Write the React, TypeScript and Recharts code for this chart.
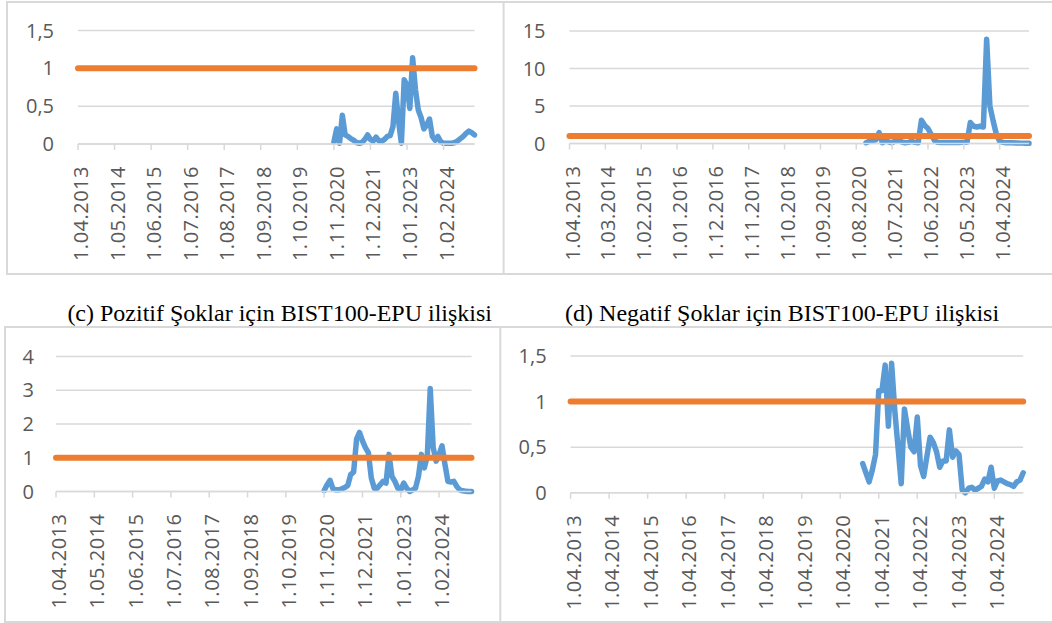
import React from 'react';
import { LineChart, Line, XAxis, YAxis, CartesianGrid } from 'recharts';

// monthly axis, 1.04.2013 ... 1.01.2025
const firstYear = 2013;
const firstMonth = 4;
const monthCount = 142;
const months = Array.from({ length: monthCount }, (_, i) => {
  const t = firstMonth - 1 + i;
  return `1.${String((t % 12) + 1).padStart(2, '0')}.${firstYear + Math.floor(t / 12)}`;
});

const seriesStart = '1.11.2020';
const threshold = 1;

// (a)
const valuesA = [
  0.03, 0.2, 0.01, 0.38, 0.12, 0.1, 0.07, 0.05, 0.02, 0.01, 0.02, 0.06, 0.12, 0.06, 0.04, 0.09, 0.04,
  0.04, 0.06, 0.1, 0.11, 0.23, 0.67, 0.3, 0.01, 0.85, 0.78, 0.47, 1.14, 0.72, 0.45, 0.35, 0.2, 0.25,
  0.33, 0.1, 0.05, 0.1, 0.03, 0.01, 0.01, 0.01, 0.01, 0.02, 0.04, 0.07, 0.1, 0.14, 0.17, 0.15, 0.12,
];
// (b)
const valuesB = [
  0.1, 0.3, 0.4, 0.5, 1.45, 0.1, 0.35, 0.2, 0.1, 0.4, 0.5, 0.2, 0.1, 0.15, 0.3, 0.15, 0.1, 3.1, 2.4,
  2.0, 1.2, 0.4, 0.15, 0.12, 0.12, 0.12, 0.12, 0.13, 0.15, 0.15, 0.18, 0.2, 2.8, 2.3, 2.2, 2.3, 2.2,
  13.9, 5.0, 3.0, 1.2, 0.3, 0.15, 0.1, 0.1, 0.1, 0.08, 0.06, 0.05, 0.03, 0.02,
];
// (c) Pozitif şoklar
const valuesC = [
  0.03, 0.2, 0.33, 0.08, 0.05, 0.05, 0.08, 0.12, 0.18, 0.5, 0.58, 1.55, 1.75, 1.5, 1.3, 1.15, 0.4,
  0.1, 0.1, 0.2, 0.3, 0.25, 1.1, 0.45, 0.3, 0.1, 0.05, 0.25, 0.1, 0.0, 0.05, 0.1, 0.45, 1.1, 0.7,
  1.05, 3.05, 1.3, 0.9, 1.1, 1.35, 0.8, 0.3, 0.28, 0.3, 0.15, 0.05, 0.02, 0.01, 0.0, 0.0,
];
// (d) Negatif şoklar
const valuesD = [
  0.32, 0.22, 0.12, 0.25, 0.42, 1.12, 1.12, 1.4, 0.73, 1.42, 0.9, 0.5, 0.1, 0.92, 0.7, 0.5, 0.45,
  0.83, 0.3, 0.18, 0.4, 0.61, 0.55, 0.45, 0.28, 0.35, 0.35, 0.69, 0.39, 0.46, 0.42, 0.03, 0.0, 0.05,
  0.06, 0.03, 0.05, 0.07, 0.15, 0.12, 0.28, 0.05, 0.13, 0.14, 0.12, 0.1, 0.09, 0.07, 0.12, 0.14, 0.22,
];

const ticksA = [0, 0.5, 1, 1.5];
const ticksB = [0, 5, 10, 15];
const ticksC = [0, 1, 2, 3, 4];
const ticksD = [0, 0.5, 1, 1.5];

const captionC = '(c) Pozitif Şoklar için BIST100-EPU ilişkisi';
const captionD = '(d) Negatif Şoklar için BIST100-EPU ilişkisi';

const GRID = '#d9d9d9';
const TEXT = '#595959';
const FONT = '"Open Sans", sans-serif';

const DateTick = (props: any) => {
  const { x, y, payload } = props;
  return (
    <text
      transform={`translate(${x},${y + 16}) rotate(-90)`}
      textAnchor="end"
      dy={10}
      fill={TEXT}
      fontSize={20}
      fontFamily={FONT}
      letterSpacing={0.5}
    >
      {payload.value}
    </text>
  );
};

type PanelProps = {
  values: number[];
  yTicks: number[];
  step: number;
  left: number;
  top: number;
  width: number;
  height: number;
  plotLeft: number;
  plotRight: number;
  plotTop: number;
  plotBottom: number;
  labelGap: number;
};

function Panel(p: PanelProps) {
  const start = months.indexOf(seriesStart);
  const data = months.map((m, i) => ({
    m,
    v: i >= start && i - start < p.values.length ? p.values[i - start] : null,
    t: threshold,
  }));
  return (
    <div style={{ position: 'absolute', left: p.left, top: p.top }}>
      <LineChart
        width={p.width}
        height={p.height}
        data={data}
        margin={{ top: p.plotTop - p.top, right: p.left + p.width - p.plotRight, bottom: 0, left: 0 }}
      >
        <CartesianGrid vertical={false} stroke={GRID} strokeWidth={1.5} />
        <XAxis
          dataKey="m"
          interval={p.step - 1}
          height={p.top + p.height - p.plotBottom}
          tickSize={6}
          tickMargin={0}
          axisLine={{ stroke: GRID, strokeWidth: 1.5 }}
          tickLine={{ stroke: GRID, strokeWidth: 1.5 }}
          tick={<DateTick />}
        />
        <YAxis
          type="number"
          domain={[p.yTicks[0], p.yTicks[p.yTicks.length - 1]]}
          ticks={p.yTicks}
          width={p.plotLeft - p.left}
          axisLine={false}
          tickLine={false}
          tickSize={0}
          tickMargin={p.labelGap}
          tickFormatter={(v: number) => String(v).replace('.', ',')}
          tick={{ fill: TEXT, fontSize: 20, fontFamily: FONT }}
        />
        <Line
          dataKey="v"
          type="linear"
          stroke="#5B9BD5"
          strokeWidth={5.5}
          strokeLinejoin="round"
          strokeLinecap="round"
          dot={false}
          isAnimationActive={false}
        />
        <Line
          dataKey="t"
          type="linear"
          stroke="#ED7D31"
          strokeWidth={6}
          strokeLinecap="round"
          dot={false}
          isAnimationActive={false}
        />
      </LineChart>
    </div>
  );
}

export default function App() {
  return (
    <div style={{ position: 'absolute', left: 0, top: 0, width: 1052, height: 623, background: '#fff', overflow: 'hidden' }}>
      <svg width={1052} height={623} style={{ position: 'absolute', left: 0, top: 0 }}>
        <g stroke={GRID} strokeWidth={2} fill="none">
          <path d="M1052,2 H7 V274 H1052" />
          <path d="M503.6,2 V274" />
          <path d="M1052,327 H5 V622 H1052" />
          <path d="M500.3,327 V622" />
        </g>
        <text x={279.7} y={320.5} textAnchor="middle" fontFamily='"Liberation Serif", "Times New Roman", serif' fontSize={24} fill="#000">
          {captionC}
        </text>
        <text x={782.1} y={320.5} textAnchor="middle" fontFamily='"Liberation Serif", "Times New Roman", serif' fontSize={24} fill="#000">
          {captionD}
        </text>
      </svg>
      <Panel values={valuesA} yTicks={ticksA} step={13} left={0} top={0} width={480} height={270}
        plotLeft={78} plotRight={474.5} plotTop={30.5} plotBottom={144} labelGap={24} />
      <Panel values={valuesB} yTicks={ticksB} step={11} left={505} top={0} width={547} height={270}
        plotLeft={569.5} plotRight={1029} plotTop={31} plotBottom={143.5} labelGap={24} />
      <Panel values={valuesC} yTicks={ticksC} step={13} left={0} top={330} width={480} height={290}
        plotLeft={56} plotRight={471.5} plotTop={356.5} plotBottom={491.5} labelGap={22} />
      <Panel values={valuesD} yTicks={ticksD} step={12} left={505} top={330} width={547} height={290}
        plotLeft={570.6} plotRight={1023.2} plotTop={356} plotBottom={492.8} labelGap={24} />
    </div>
  );
}
